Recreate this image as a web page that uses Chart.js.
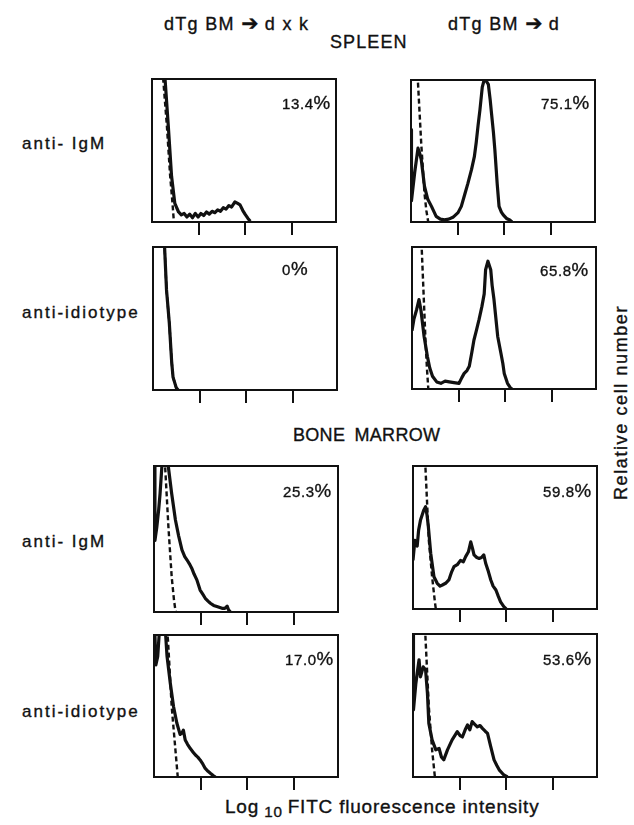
<!DOCTYPE html>
<html>
<head>
<meta charset="utf-8">
<script src="https://cdn.jsdelivr.net/npm/chart.js@4.4.1/dist/chart.umd.min.js"></script>
<style>
  body { margin: 0; background: #fff; width: 634px; height: 825px; position: relative; overflow: hidden;
         font-family: "Liberation Sans", Arial, sans-serif; color: #111; }
  .lbl { position: absolute; white-space: nowrap; line-height: 1; -webkit-text-stroke: 0.35px #111; }
  .panel { position: absolute; }
  .pct span { font-size: 1.25em; }
  .arrow { font-family: "DejaVu Sans", sans-serif; font-size: 1.15em; letter-spacing: 0; }
</style>
</head>
<body>
<script>
// x = log10 FITC intensity (decades), y = relative cell number (100 = top of frame)
const decadeTicks = [1, 2, 3];
const columnTitles = ['dTg BM <span class="arrow">\u2794</span> d x k', 'dTg BM <span class="arrow">\u2794</span> d'];
const sectionTitles = ['SPLEEN', 'BONE MARROW'];
const rowLabels = ['anti- IgM', 'anti-idiotype', 'anti- IgM', 'anti-idiotype'];
const positivePercents = ['13.4', '75.1', '0', '65.8', '25.3', '59.8', '17.0', '53.6'];

const spleenIgmDxk = [[0.22,140],[0.28,100],[0.35,67],[0.42,32],[0.49,13],[0.57,7],[0.63,5],[0.69,6],[0.75,3.5],[0.81,5.5],[0.87,3],[0.93,6],[0.99,3.5],[1.05,6],[1.11,4.5],[1.17,7],[1.23,5.5],[1.29,7.5],[1.35,6.5],[1.41,8.5],[1.47,7.5],[1.53,10],[1.59,9],[1.65,11.5],[1.71,10.5],[1.78,14],[1.84,13],[1.89,12],[1.95,8],[2.0,5.3],[2.06,2.5],[2.11,0.5]];
const spleenIgmDxkCtrl = [[0.2,140],[0.24,100],[0.32,67],[0.39,32],[0.44,13],[0.47,0]];
const spleenIgmD = [[0,65],[0.01,15],[0.08,35],[0.15,52],[0.19,48],[0.22,44],[0.29,25],[0.36,16],[0.44,11],[0.54,4],[0.63,2],[0.72,1.5],[0.81,2],[0.90,3.3],[1.01,6.6],[1.08,11],[1.15,19],[1.22,27],[1.30,37],[1.36,46],[1.40,56],[1.44,68],[1.48,79],[1.53,95],[1.57,100],[1.62,99],[1.66,97],[1.70,86],[1.73,76],[1.77,63],[1.80,51],[1.85,27],[1.89,11],[1.94,7],[1.98,5],[2.05,2.5],[2.12,1.4],[2.17,0]];
const spleenIgmDCtrl = [[0.12,115],[0.15,98],[0.22,55],[0.29,20],[0.33,8],[0.37,0]];
const spleenIdDxk = [[0.23,115],[0.25,99],[0.29,70],[0.35,47],[0.40,20],[0.43,9],[0.50,1.5],[0.54,0]];
const spleenIdDxkCtrl = [[0.23,115],[0.25,99],[0.29,70],[0.35,47],[0.40,20],[0.43,9],[0.50,1.5],[0.54,0]];
const spleenIdD = [[0,41],[0.04,49],[0.10,56],[0.15,63],[0.19,56],[0.26,37],[0.33,23],[0.38,15],[0.44,9],[0.53,5],[0.62,4],[0.71,5.5],[0.80,5],[0.90,4.5],[1.01,4],[1.07,8],[1.12,11],[1.18,13],[1.23,16],[1.28,25],[1.33,34.5],[1.38,41],[1.44,49],[1.50,58],[1.55,67],[1.58,84],[1.63,90],[1.69,84],[1.72,73],[1.76,63],[1.80,50],[1.84,37],[1.91,25],[1.95,18],[1.98,11],[2.05,4],[2.12,0.5],[2.15,0]];
const spleenIdDCtrl = [[0.19,115],[0.21,98],[0.25,66],[0.29,34],[0.32,15],[0.35,0]];
const marrowIgmDxk = [[0,120],[0.02,49],[0.06,58],[0.10,70],[0.13,81],[0.17,100],[0.22,130],[0.27,125],[0.31,99],[0.38,81],[0.46,63],[0.53,52],[0.60,42.5],[0.66,38],[0.71,35.6],[0.76,33],[0.81,30],[0.86,26],[0.92,22],[0.99,15],[1.05,12],[1.10,9.4],[1.16,7.5],[1.21,6],[1.28,4.5],[1.35,3.7],[1.46,2.5],[1.52,2.5],[1.57,4],[1.60,1.5],[1.64,0]];
const marrowIgmDxkCtrl = [[0.22,110],[0.24,99],[0.31,58],[0.38,24],[0.43,8],[0.46,1],[0.47,0]];
const marrowIgmD = [[0,34],[0.04,48],[0.09,44],[0.12,55],[0.16,62],[0.20,66],[0.23,69],[0.27,71.5],[0.30,66],[0.33,57.5],[0.38,39],[0.45,22.6],[0.52,18],[0.58,16],[0.63,16.8],[0.70,18],[0.77,20.3],[0.83,26],[0.88,29.6],[0.95,31],[1.02,34],[1.08,33],[1.13,36.6],[1.19,40],[1.24,47],[1.28,42],[1.31,37.8],[1.37,36],[1.42,35.4],[1.47,36],[1.52,37.8],[1.56,32],[1.62,26],[1.67,20.3],[1.72,16],[1.78,13.3],[1.83,9],[1.88,5],[1.95,1.6],[2.0,0]];
const marrowIgmDCtrl = [[0.25,110],[0.27,97],[0.34,48],[0.41,22.6],[0.47,5],[0.49,0]];
const marrowIdDxk = [[0,130],[0.02,100],[0.04,79],[0.08,85],[0.11,100],[0.16,130],[0.22,130],[0.25,100],[0.28,85],[0.35,66],[0.42,49.5],[0.49,38],[0.56,30],[0.60,31],[0.63,33],[0.67,26],[0.72,23],[0.78,20],[0.84,17.5],[0.89,15.5],[0.94,14],[0.99,12],[1.05,9],[1.1,6],[1.16,4],[1.21,2.6],[1.27,1],[1.32,0]];
const marrowIdDxkCtrl = [[0.26,110],[0.30,96.5],[0.38,49.5],[0.46,19],[0.51,0]];
const marrowIdD = [[0,110],[0.01,47],[0.06,65],[0.09,72.5],[0.13,82],[0.16,70],[0.22,77],[0.27,75],[0.31,58.5],[0.34,37.5],[0.41,26],[0.49,19],[0.56,20],[0.61,14],[0.66,12],[0.74,19],[0.84,26],[0.95,31.7],[1.01,29],[1.06,28],[1.12,33],[1.17,36.4],[1.22,33],[1.27,38.7],[1.32,37],[1.38,35],[1.44,36],[1.49,34],[1.55,32],[1.60,30.5],[1.67,21],[1.74,12],[1.80,8],[1.85,5],[1.95,1.4],[2.03,0]];
const marrowIdDCtrl = [[0.25,110],[0.27,96],[0.34,49],[0.41,19],[0.47,0]];

const panelSeries = [
  [spleenIgmDxk, spleenIgmDxkCtrl], [spleenIgmD, spleenIgmDCtrl],
  [spleenIdDxk, spleenIdDxkCtrl],   [spleenIdD, spleenIdDCtrl],
  [marrowIgmDxk, marrowIgmDxkCtrl], [marrowIgmD, marrowIgmDCtrl],
  [marrowIdDxk, marrowIdDxkCtrl],   [marrowIdD, marrowIdDCtrl]
];

// frame positions on the page
const PANEL_W = 184, PAD = 3, TICK_LEN = 13;
const panelBoxes = [
  {left: 152, top: 79, h: 143}, {left: 411, top: 80, h: 142},
  {left: 153, top: 247, h: 143}, {left: 412, top: 247, h: 142},
  {left: 154, top: 466, h: 146}, {left: 413, top: 466, h: 143},
  {left: 154, top: 635, h: 142}, {left: 413, top: 634, h: 143}
];

const framePlugin = {
  id: 'frame',
  afterDraw(chart) {
    const {ctx, chartArea: a} = chart;
    ctx.save();
    ctx.strokeStyle = '#111';
    ctx.lineWidth = 2;
    ctx.strokeRect(a.left, a.top, a.right - a.left, a.bottom - a.top);
    ctx.restore();
  }
};

function label(html, left, baseline, size, extra) {
  const d = document.createElement('div');
  d.className = 'lbl';
  d.innerHTML = html;
  d.style.left = left + 'px';
  d.style.top = (baseline - 0.85 * size) + 'px';
  d.style.fontSize = size + 'px';
  Object.assign(d.style, extra || {});
  document.body.appendChild(d);
  return d;
}

function makePanel(i) {
  const box = panelBoxes[i];
  const [stain, control] = panelSeries[i];
  const w = PANEL_W + 2 * PAD, h = box.h + PAD + TICK_LEN;
  const wrap = document.createElement('div');
  wrap.className = 'panel';
  wrap.style.left = (box.left - PAD) + 'px';
  wrap.style.top = (box.top - PAD) + 'px';
  const canvas = document.createElement('canvas');
  canvas.width = w; canvas.height = h;
  canvas.style.width = w + 'px'; canvas.style.height = h + 'px';
  wrap.appendChild(canvas);
  document.body.appendChild(wrap);

  new Chart(canvas, {
    type: 'line',
    data: {
      datasets: [
        {data: stain.map(p => ({x: p[0], y: p[1]})), borderColor: '#111', borderWidth: 3.2,
         borderJoinStyle: 'round', pointRadius: 0, tension: 0},
        {data: control.map(p => ({x: p[0], y: p[1]})), borderColor: '#111', borderWidth: 2.4,
         borderDash: [5, 3], pointRadius: 0, tension: 0}
      ]
    },
    options: {
      responsive: false,
      animation: false,
      events: [],
      layout: {padding: {left: PAD, right: PAD, top: PAD, bottom: 0}},
      plugins: {legend: {display: false}, tooltip: {enabled: false}},
      scales: {
        x: {
          type: 'linear', min: 0, max: 3.95,
          afterBuildTicks: s => { s.ticks = decadeTicks.map(v => ({value: v})); },
          ticks: {display: false},
          border: {display: false},
          grid: {drawOnChartArea: false, drawTicks: true, tickLength: TICK_LEN, color: '#111', lineWidth: 2}
        },
        y: {display: false, min: 0, max: 100}
      }
    },
    plugins: [framePlugin]
  });
}

panelSeries.forEach((_, i) => makePanel(i));

// titles and labels
label(columnTitles[0], 164, 28, 18, {letterSpacing: '1.3px'});
label(columnTitles[1], 448, 28, 18, {letterSpacing: '1.3px'});
label(sectionTitles[0], 330, 48, 18, {letterSpacing: '1.1px'});
label(sectionTitles[1], 293, 441, 18, {letterSpacing: '0.3px', wordSpacing: '4px'});
[149, 318, 547, 717].forEach((b, r) => label(rowLabels[r], 22, b, 17, {letterSpacing: '2px'}));

const pctSpots = [[282, 107], [541, 107], [282, 273], [540, 274], [283, 495], [543, 495], [285, 663], [543, 663]];
pctSpots.forEach((p, i) => {
  const d = label(positivePercents[i] + '<span>%</span>', p[0], p[1], 15, {letterSpacing: '0.6px'});
  d.classList.add('pct');
});

label('Log<sub style="font-size:0.8em;vertical-align:-4px"> 10 </sub>FITC fluorescence intensity', 225, 813, 19, {letterSpacing: '0.8px'});
const yt = label('Relative cell number', 0, 0, 18, {letterSpacing: '1.6px', transformOrigin: '0 0'});
yt.style.left = '612px';
yt.style.top = (402 + yt.offsetWidth / 2) + 'px';
yt.style.transform = 'rotate(-90deg)';
</script>
</body>
</html>
